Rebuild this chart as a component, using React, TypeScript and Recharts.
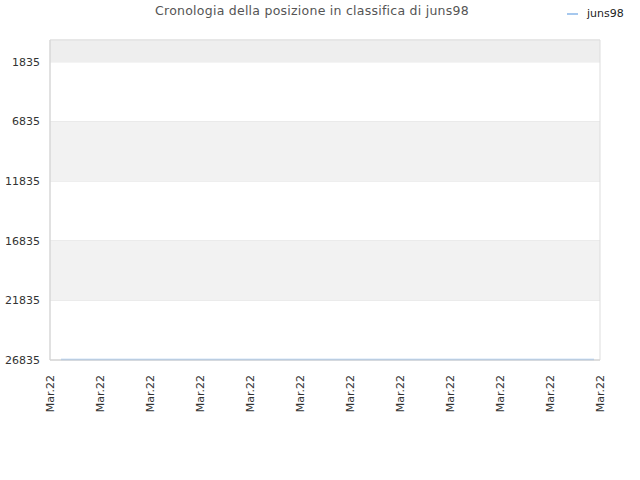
import React from "react";
import {
  LineChart,
  Line,
  XAxis,
  YAxis,
  CartesianGrid,
  ReferenceArea,
} from "recharts";

const PLAYER = "juns98";
const TITLE = "Cronologia della posizione in classifica di juns98";

// x positions of the samples, measured in tick units (12 ticks, all "Mar.22")
const xTicks = [0, 1, 2, 3, 4, 5, 6, 7, 8, 9, 10, 11];
const xLabels = ["Mar.22", "Mar.22", "Mar.22", "Mar.22", "Mar.22", "Mar.22", "Mar.22", "Mar.22", "Mar.22", "Mar.22", "Mar.22", "Mar.22"];
const sampleX = [0.22, 10.88];
const ranks = [26790, 26790];

const yTicks = [1835, 6835, 11835, 16835, 21835, 26835];
// shaded bands [from, to]
const bands = [
  [0, 1835, "#eeeeee"],
  [6835, 11835, "#f2f2f2"],
  [16835, 21835, "#f2f2f2"],
] as const;

const data = sampleX.map((x, i) => ({ x, rank: ranks[i] }));

const FONT = "'DejaVu Sans', sans-serif";

function XTick(props: any) {
  const { x, y, payload } = props;
  return (
    <text
      transform={`translate(${x},${y + 7}) rotate(-90)`}
      textAnchor="end"
      dominantBaseline="central"
      fontSize={11}
      fontFamily={FONT}
      fill="#333"
    >
      {xLabels[payload.index] ?? xLabels[0]}
    </text>
  );
}

export default function App() {
  return (
    <div style={{ position: "absolute", top: 0, left: 0, width: 640, height: 480, background: "#fff" }}>
      <div
        style={{
          position: "absolute",
          top: 3,
          left: 2,
          width: 620,
          textAlign: "center",
          fontFamily: FONT,
          fontSize: 12.5,
          color: "#555",
          letterSpacing: 0.25,
        }}
      >
        {TITLE}
      </div>
      <div
        style={{
          position: "absolute",
          top: 7,
          left: 567,
          display: "flex",
          alignItems: "center",
          fontFamily: FONT,
          fontSize: 11,
          color: "#222",
        }}
      >
        <span style={{ display: "inline-block", width: 11, height: 2, background: "#a6c8ee", marginRight: 9 }} />
        {PLAYER}
      </div>
      <LineChart
        width={640}
        height={480}
        data={data}
        margin={{ top: 40, right: 40, left: 0, bottom: 0 }}
      >
        {bands.map(([a, b, c], i) => (
          <ReferenceArea key={i} y1={a} y2={b} fill={c} fillOpacity={1} stroke="none" />
        ))}
        <CartesianGrid vertical={false} stroke="#e2e2e2" />
        <ReferenceArea x1={0} x2={11} y1={0} y2={26835} fill="none" stroke="#dddddd" />
        <XAxis
          dataKey="x"
          type="number"
          domain={[0, 11]}
          ticks={xTicks}
          height={120}
          tick={<XTick />}
          tickLine={false}
          axisLine={{ stroke: "#d4d4d4" }}
          interval={0}
        />
        <YAxis
          type="number"
          domain={[0, 26835]}
          reversed
          ticks={yTicks}
          width={50}
          tickLine={false}
          tickSize={6}
          tickMargin={4}
          axisLine={{ stroke: "#d4d4d4" }}
          tick={{ fontSize: 11, fontFamily: FONT, fill: "#333" }}
        />
        <Line
          dataKey="rank"
          stroke="#a2c6ee"
          strokeWidth={1.6}
          dot={false}
          isAnimationActive={false}
        />
      </LineChart>
    </div>
  );
}
